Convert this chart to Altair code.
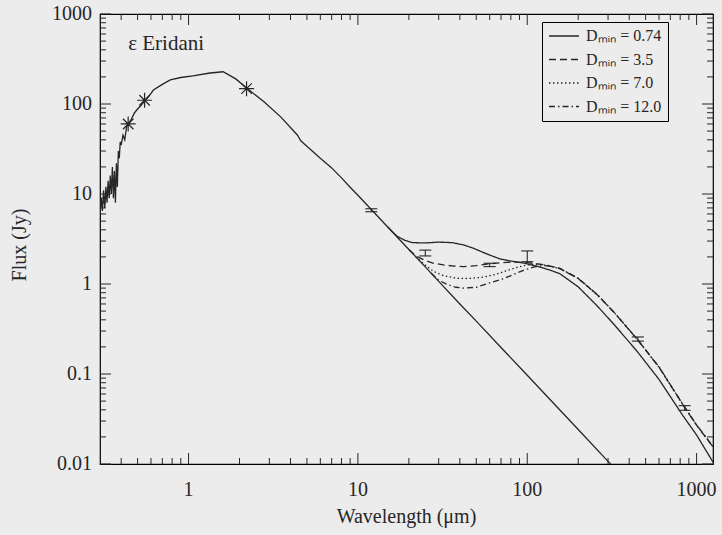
import altair as alt
import pandas as pd

# ---------------- data ----------------
phot_lam = [0.300, 0.305, 0.310, 0.315, 0.320, 0.325, 0.330, 0.335, 0.340, 0.345,
            0.350, 0.355, 0.360, 0.365, 0.370, 0.375, 0.380, 0.385, 0.390, 0.395,
            0.400, 0.410, 0.420, 0.430, 0.440, 0.460, 0.480, 0.500, 0.520, 0.550,
            0.580, 0.620, 0.700, 0.780, 0.900, 1.06, 1.34, 1.60, 1.90, 2.24,
            2.8, 3.5, 4.1, 4.4, 4.6, 5.0, 6.0, 7.0, 8.0, 9.0,
            10, 12, 15, 20, 25, 30, 40, 50, 70, 100,
            150, 200, 300, 311]
phot_flux = [6.0, 9.0, 6.5, 11, 7.0, 12, 8.0, 14, 9.0, 16,
             10, 20, 9.0, 18, 8.0, 22, 12, 30, 25, 38,
             35, 45, 40, 55, 60, 68, 80, 88, 95, 108,
             120, 143, 165, 185, 197, 205, 221, 228, 190, 147,
             105, 72, 52, 45, 39, 34, 25, 19.5, 15.1, 11.9,
             9.67, 6.72, 4.30, 2.42, 1.55, 1.07, 0.60, 0.387, 0.197, 0.0967,
             0.043, 0.0242, 0.0107, 0.0100]

model_labels = ["Dₘᵢₙ = 0.74", "Dₘᵢₙ = 3.5", "Dₘᵢₙ = 7.0", "Dₘᵢₙ = 12.0"]
model_dashes = [[1, 0], [7, 4], [1.5, 2.5], [6, 3, 1.5, 3]]

m1_lam = [15, 17, 19, 21, 25, 30, 36, 42, 48, 58, 69, 80, 95, 115, 136, 156,
          200, 259, 330, 446, 600, 834, 1000, 1250]
m1_flux = [4.30, 3.40, 3.05, 2.88, 2.86, 2.92, 2.88, 2.72, 2.50, 2.15, 1.90, 1.80,
           1.71, 1.57, 1.43, 1.30, 0.93, 0.57, 0.345, 0.178, 0.087, 0.034, 0.021, 0.0105]

m2_lam = [20, 22, 25, 28, 32, 37, 42, 50, 60, 75, 87, 100, 110, 130, 156,
          200, 259, 330, 446, 600, 834, 1000, 1250]
m2_flux = [2.42, 2.05, 1.82, 1.70, 1.63, 1.58, 1.56, 1.60, 1.68, 1.74, 1.75, 1.73,
           1.69, 1.62, 1.48, 1.15, 0.76, 0.47, 0.243, 0.119, 0.045, 0.027, 0.0155]

m3_lam = [22, 25, 28, 32, 38, 45, 55, 65, 75, 87, 100, 112, 130, 156,
          200, 259, 330, 446, 600, 834, 1000, 1250]
m3_flux = [2.00, 1.62, 1.38, 1.24, 1.16, 1.15, 1.19, 1.28, 1.40, 1.53, 1.63, 1.66,
           1.62, 1.48, 1.15, 0.76, 0.47, 0.243, 0.119, 0.045, 0.027, 0.0155]

m4_lam = [27, 30, 34, 38, 42, 50, 60, 70, 80, 95, 110, 125, 140, 156,
          200, 259, 330, 446, 600, 834, 1000, 1250]
m4_flux = [1.33, 1.10, 0.98, 0.92, 0.90, 0.92, 1.03, 1.12, 1.24, 1.42, 1.55, 1.60,
           1.57, 1.49, 1.16, 0.765, 0.472, 0.244, 0.120, 0.0455, 0.0272, 0.0157]

err_lam = [12, 25, 60, 100, 450, 850]
err_lo = [6.35, 2.05, 1.56, 1.77, 0.232, 0.0395]
err_hi = [6.85, 2.38, 1.70, 2.33, 0.258, 0.0445]

star_lam = [0.44, 0.55, 2.2]
star_flux = [60, 110, 148]

note_text = "ε Eridani"
note_lam = 0.44
note_flux = 398

x_title = "Wavelength (μm)"
y_title = "Flux (Jy)"

x_min, x_max = 0.3, 1250
y_min, y_max = 0.01, 1000
x_major = [1, 10, 100, 1000]
x_minor = [0.4, 0.5, 0.6, 0.7, 0.8, 0.9, 2, 3, 4, 5, 6, 7, 8, 9,
           20, 30, 40, 50, 60, 70, 80, 90, 200, 300, 400, 500, 600, 700, 800, 900]
y_major = [0.01, 0.1, 1, 10, 100, 1000]
y_minor = [0.02, 0.03, 0.04, 0.05, 0.06, 0.07, 0.08, 0.09,
           0.2, 0.3, 0.4, 0.5, 0.6, 0.7, 0.8, 0.9,
           2, 3, 4, 5, 6, 7, 8, 9, 20, 30, 40, 50, 60, 70, 80, 90,
           200, 300, 400, 500, 600, 700, 800, 900]

# ---------------- tables ----------------
phot = pd.DataFrame({"lam": phot_lam, "flux": phot_flux})
models = pd.concat([
    pd.DataFrame({"lam": l, "flux": f, "label": lab})
    for l, f, lab in zip([m1_lam, m2_lam, m3_lam, m4_lam],
                         [m1_flux, m2_flux, m3_flux, m4_flux], model_labels)
], ignore_index=True)
errs = pd.DataFrame({"lam": err_lam, "lo": err_lo, "hi": err_hi})
stars = pd.DataFrame({"lam": star_lam, "flux": star_flux})
note = pd.DataFrame({"lam": [note_lam], "flux": [note_flux], "text": [note_text]})
x_lab = pd.DataFrame({"v": x_major, "flux": [y_min] * len(x_major)})
y_lab = pd.DataFrame({"v": y_major, "lam": [x_min] * len(y_major)})

# ---------------- style ----------------
W, H = 613, 450
FONT = "Liberation Serif"
INK = "#262626"
BG = "#ececec"
MAJ, MIN = 11, 6

xs = alt.Scale(type="log", domain=[x_min, x_max], nice=False)
ys = alt.Scale(type="log", domain=[y_min, y_max], nice=False)


def x_ticks(values, size, at_top):
    df = pd.DataFrame({"v": values})
    y0 = 0 if at_top else H
    y1 = size if at_top else H - size
    return alt.Chart(df).mark_rule(color=INK, strokeWidth=1).encode(
        x=alt.X("v:Q", scale=xs, axis=None),
        y=alt.value(y0), y2=alt.value(y1),
    )


def y_ticks(values, size, at_right):
    df = pd.DataFrame({"v": values})
    x0 = W if at_right else 0
    x1 = W - size if at_right else size
    return alt.Chart(df).mark_rule(color=INK, strokeWidth=1).encode(
        y=alt.Y("v:Q", scale=ys, axis=None),
        x=alt.value(x0), x2=alt.value(x1),
    )


tick_layers = [
    x_ticks(x_major, MAJ, False), x_ticks(x_minor, MIN, False),
    x_ticks(x_major, MAJ, True), x_ticks(x_minor, MIN, True),
    y_ticks(y_major, MAJ, False), y_ticks(y_minor, MIN, False),
    y_ticks(y_major, MAJ, True), y_ticks(y_minor, MIN, True),
]

# tick labels, placed through the scales just outside the frame
x_tick_labels = alt.Chart(x_lab).mark_text(
    align="center", baseline="middle", dy=26, font=FONT, fontSize=20, color=INK
).encode(
    x=alt.X("v:Q", scale=xs, axis=None),
    y=alt.Y("flux:Q", scale=ys, axis=None),
    text=alt.Text("v:Q", format="~g"),
)
y_tick_labels = alt.Chart(y_lab).mark_text(
    align="right", baseline="middle", dx=-8, font=FONT, fontSize=20, color=INK
).encode(
    x=alt.X("lam:Q", scale=xs, axis=None),
    y=alt.Y("v:Q", scale=ys, axis=None),
    text=alt.Text("v:Q", format="~g"),
)

# axis titles
x_title_txt = alt.Chart(pd.DataFrame({"t": [x_title]})).mark_text(
    align="center", baseline="middle", font=FONT, fontSize=20, color=INK
).encode(x=alt.value(W / 2), y=alt.value(H + 53), text="t:N")
y_title_txt = alt.Chart(pd.DataFrame({"t": [y_title]})).mark_text(
    align="center", baseline="middle", angle=270, font=FONT, fontSize=20, color=INK
).encode(x=alt.value(-80), y=alt.value(231), text="t:N")

phot_line = alt.Chart(phot).mark_line(color=INK, strokeWidth=1.3, clip=True).encode(
    x=alt.X("lam:Q", scale=xs, axis=None),
    y=alt.Y("flux:Q", scale=ys, axis=None),
)

model_lines = alt.Chart(models).mark_line(color=INK, strokeWidth=1.3, clip=True).encode(
    x=alt.X("lam:Q", scale=xs, axis=None),
    y=alt.Y("flux:Q", scale=ys, axis=None),
    strokeDash=alt.StrokeDash(
        "label:N",
        sort=model_labels,
        scale=alt.Scale(domain=model_labels, range=model_dashes),
        legend=alt.Legend(
            title=None, orient="none", legendX=442, legendY=8,
            strokeColor="black", fillColor=BG, padding=6,
            symbolType="stroke", symbolSize=900, symbolStrokeWidth=1.3,
            symbolStrokeColor=INK, clipHeight=16, rowPadding=7.5,
            labelFont=FONT, labelFontSize=16, labelColor=INK, labelOffset=6,
            labelLimit=260,
        ),
    ),
)

err_rules = alt.Chart(errs).mark_rule(color=INK, strokeWidth=1.1).encode(
    x=alt.X("lam:Q", scale=xs, axis=None),
    y=alt.Y("lo:Q", scale=ys, axis=None),
    y2="hi:Q",
)

err_caps = alt.Chart(errs).transform_fold(["lo", "hi"], as_=["end", "val"]).mark_tick(
    orient="horizontal", size=12, thickness=1.1, color=INK, opacity=1
).encode(
    x=alt.X("lam:Q", scale=xs, axis=None),
    y=alt.Y("val:Q", scale=ys, axis=None),
)

star_path = "M-1,0L1,0M0,-1L0,1M-0.7,-0.7L0.7,0.7M-0.7,0.7L0.7,-0.7"
star_pts = alt.Chart(stars).mark_point(
    shape=star_path, size=225, filled=False, strokeWidth=1.2, color=INK, opacity=1
).encode(
    x=alt.X("lam:Q", scale=xs, axis=None),
    y=alt.Y("flux:Q", scale=ys, axis=None),
)

note_txt = alt.Chart(note).mark_text(
    align="left", baseline="alphabetic", font=FONT, fontSize=21, color=INK
).encode(
    x=alt.X("lam:Q", scale=xs, axis=None),
    y=alt.Y("flux:Q", scale=ys, axis=None),
    text="text:N",
)

chart = alt.layer(
    phot_line, model_lines, err_rules, err_caps, star_pts, note_txt,
    *tick_layers, x_tick_labels, y_tick_labels, x_title_txt, y_title_txt
).properties(
    width=W, height=H,
    autosize=alt.AutoSizeParams(type="none"),
    padding={"left": 100, "top": 14, "right": 9, "bottom": 71},
    background=BG,
).configure_view(stroke="black", strokeWidth=1.2)

chart.save("out.html", embed_options={"renderer": "svg", "actions": False})
